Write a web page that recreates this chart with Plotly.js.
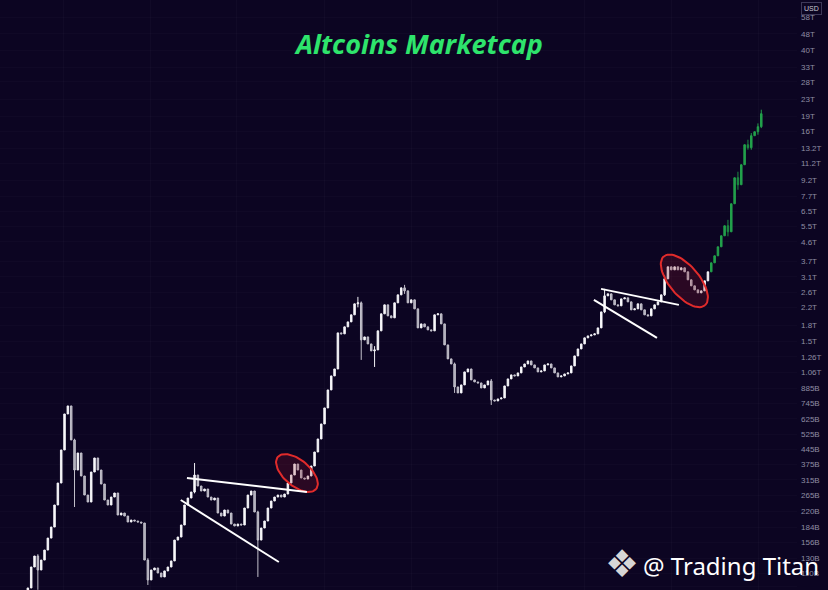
<!DOCTYPE html>
<html>
<head>
<meta charset="utf-8">
<script src="https://cdn.plot.ly/plotly-3.0.1.min.js"></script>
<style>
  html, body { margin: 0; padding: 0; background: #0c0522; }
  #chart { width: 828px; height: 590px; }
</style>
</head>
<body>
<div id="chart"></div>
<script>
// ---- data (values in billions USD) ----
const startDate = '2017-08-06';   // first candle
const stepDays = 14;              // candle spacing

// historical candles: closes
const histCloses = [
  92.9, 117.7, 133.2, 113.8, 127.3, 142.5, 163.1, 184.7, 236.8, 303.4,
  440.4, 661.0, 723.6, 493.0, 351.4, 425.7, 328.4, 265.0, 244.9, 343.5,
  402.4, 351.4, 300.0, 250.5, 236.8, 259.1, 271.1, 211.5, 216.3, 209.1,
  195.5, 199.9, 197.7, 195.5, 193.3, 127.3, 101.7, 113.8, 116.4, 110.0,
  105.2, 112.6, 117.7, 126.0, 159.5, 165.0, 189.0, 236.8, 256.2, 274.2,
  332.1, 293.4, 277.3, 283.6, 259.1, 250.5, 256.2, 216.3, 209.1, 223.8,
  216.3, 191.1, 186.9, 191.1, 189.0, 228.9, 265.0, 277.3, 218.8, 159.5,
  182.7, 197.7, 228.9, 247.7, 259.1, 265.0, 259.1, 268.0, 303.4, 332.1,
  376.0, 351.4, 321.1, 317.4, 328.4, 367.6, 430.5, 498.6, 590.5, 707.4,
  866.7, 1015, 1098, 1649, 1631, 1765, 1867, 2021, 2288, 2314,
  1524, 1576, 1456, 1346, 1361, 1687, 2044, 2262, 1998, 1954,
  2314, 2532, 2740, 2649, 2314, 2393, 2162, 1745, 1825, 1765,
  1706, 1687, 2021, 2044, 1825, 1440, 1230, 1162, 896.5, 837.8,
  917.0, 1062, 1098, 970.3, 948.5, 937.9, 886.5, 917.0, 959.3, 774.2,
  765.5, 783.0, 791.9, 906.7, 981.3, 1027, 1015, 1050, 1123, 1162,
  1202, 1149, 1111, 1062, 1074, 1149, 1162, 1111, 1050, 1004,
  1015, 1038, 1050, 1136, 1272, 1376, 1456, 1559, 1594, 1612,
  1631, 1745, 2090, 2504, 2561, 2393, 2262, 2237, 2420, 2448,
  2340, 2138, 2162, 2288, 2138, 2021, 1998, 2162, 2262, 2340,
  2532, 3034, 3473, 3358, 3473, 3358, 3435, 3283, 3000, 2803,
  2679, 2590, 2649, 2965, 3283
];
const firstOpen = 90.0;

// projected (green) candles: closes
const projCloses = [3634, 3933, 4353, 4929, 5518, 5156, 7072, 9483, 8763, 10982,
                    13764, 13305, 15236, 15938, 16864, 19528];

// notable wicks (candle index -> high / low)
const wickIdx  = [3,    14,    36,    50,    69,    99,   100,  104,  113,  128,  139,   173,  191,
                  210,  213,  216,   217,   219,   220];
const wickHigh = [136,  500,   130,   380.2, 222,   2475, 2350, 1420, 2834, 1180, 980,   2709, 3150,
                  5900, 10150, 14560, 15700, 17500, 20430];
const wickLow  = [91,   231.5, 96.1,  270,   105.2, 2200, 1216, 1123, 2560, 837.8, 731.7, 2060, 2500,
                  4900, 8283,  13009, 13009, 15408, 16600];

// trend lines drawn on the chart (date, value)
const tl1UpperX = ['2019-06-05', '2020-10-21'], tl1UpperY = [321.1, 274.2];
const tl1LowerX = ['2019-05-10', '2020-06-25'], tl1LowerY = [250.5, 124.5];
const tl2UpperX = ['2024-03-09', '2025-01-30'], tl2UpperY = [2709, 2262];
const tl2LowerX = ['2024-02-08', '2024-10-30'], tl2LowerY = [2393, 1559];

// highlighted zones (center date, center value)
const zoneDates = ['2020-09-09', '2025-02-22'];
const zoneValues = [339.7, 2965];

// axis ticks
const tickValues = [95, 110, 130, 156, 184, 220, 265, 315, 375, 445, 525, 625, 745, 885,
                    1060, 1260, 1500, 1800, 2200, 2600, 3100, 3700, 4600, 5500, 6500, 7700,
                    9200, 11200, 13200, 16000, 19000, 23000, 28000, 33000, 40000, 48000, 58000];
const tickLabels = ['95B', '110B', '130B', '156B', '184B', '220B', '265B', '315B', '375B', '445B',
                    '525B', '625B', '745B', '885B', '1.06T', '1.26T', '1.5T', '1.8T', '2.2T', '2.6T',
                    '3.1T', '3.7T', '4.6T', '5.5T', '6.5T', '7.7T', '9.2T', '11.2T', '13.2T', '16T',
                    '19T', '23T', '28T', '33T', '40T', '48T', '58T'];

// ---- build ----
const xRange = ['2017-04-11', '2026-06-10'];
const yRange = [1.95813, 4.84746];
const plotW = 797, plotH = 590;
const DAY = 86400000;
const t0 = Date.parse(startDate);

const allCloses = histCloses.concat(projCloses);
const dates = allCloses.map((_, i) => new Date(t0 + i * stepDays * DAY).toISOString().slice(0, 10));
const opens = allCloses.map((c, i) => i === 0 ? firstOpen : allCloses[i - 1]);
const highs = allCloses.map((c, i) => Math.max(c, opens[i]));
const lows = allCloses.map((c, i) => Math.min(c, opens[i]));
wickIdx.forEach((k, j) => { highs[k] = Math.max(highs[k], wickHigh[j]); lows[k] = Math.min(lows[k], wickLow[j]); });

const nH = histCloses.length;
function slice(a, s, e) { return a.slice(s, e); }

const histTrace = {
  type: 'candlestick',
  x: slice(dates, 0, nH), open: slice(opens, 0, nH), high: slice(highs, 0, nH),
  low: slice(lows, 0, nH), close: slice(allCloses, 0, nH),
  increasing: { line: { color: '#f2f2f6', width: 1 }, fillcolor: '#ffffff' },
  decreasing: { line: { color: '#c4c2cc', width: 1 }, fillcolor: '#a9a7b4' },
  whiskerwidth: 0, hoverinfo: 'skip'
};
const projTrace = {
  type: 'candlestick',
  x: slice(dates, nH), open: slice(opens, nH), high: slice(highs, nH),
  low: slice(lows, nH), close: slice(allCloses, nH),
  increasing: { line: { color: '#23a14c', width: 1 }, fillcolor: '#23a14c' },
  decreasing: { line: { color: '#1c8a40', width: 1 }, fillcolor: '#1c8a40' },
  whiskerwidth: 0, hoverinfo: 'skip'
};

function lineTrace(x, y) {
  return { type: 'scatter', mode: 'lines', x: x, y: y, line: { color: '#ffffff', width: 2 }, hoverinfo: 'skip' };
}

// ellipse outline in screen space around a data-space centre
const msPerPx = (Date.parse(xRange[1]) - Date.parse(xRange[0])) / plotW;
const decPerPx = (yRange[1] - yRange[0]) / plotH;
function ellipseTrace(cDate, cVal, a, b, thetaDeg) {
  const th = thetaDeg * Math.PI / 180, cMs = Date.parse(cDate), cl = Math.log10(cVal);
  const xs = [], ys = [];
  for (let k = 0; k <= 72; k++) {
    const t = 2 * Math.PI * k / 72;
    const dx = a * Math.cos(t) * Math.cos(th) - b * Math.sin(t) * Math.sin(th);
    const dy = a * Math.cos(t) * Math.sin(th) + b * Math.sin(t) * Math.cos(th);
    xs.push(cMs + dx * msPerPx);
    ys.push(Math.pow(10, cl - dy * decPerPx));
  }
  return { type: 'scatter', mode: 'lines', x: xs, y: ys, fill: 'toself',
           fillcolor: 'rgba(150,25,40,0.22)', line: { color: '#e02b2b', width: 2 }, hoverinfo: 'skip' };
}

const data = [
  histTrace, projTrace,
  ellipseTrace(zoneDates[0], zoneValues[0], 25, 13, 40),
  ellipseTrace(zoneDates[1], zoneValues[1], 32, 15, 50),
  lineTrace(tl1UpperX, tl1UpperY), lineTrace(tl1LowerX, tl1LowerY),
  lineTrace(tl2UpperX, tl2UpperY), lineTrace(tl2LowerX, tl2LowerY)
];

const layout = {
  width: 828, height: 590,
  paper_bgcolor: '#0c0522', plot_bgcolor: '#0c0522',
  margin: { l: 0, r: 31, t: 0, b: 0 },
  showlegend: false, hovermode: false,
  boxgap: 0.35,
  title: {
    text: '<b><i>Altcoins Marketcap</i></b>',
    font: { family: 'Open Sans', size: 27, color: '#2ee46c' },
    x: 0.5066, xref: 'container', xanchor: 'center',
    y: 0.925, yref: 'container', yanchor: 'middle'
  },
  xaxis: {
    type: 'date', range: xRange, showticklabels: false, ticks: '',
    showgrid: true, gridcolor: 'rgba(255,255,255,0.022)', zeroline: false,
    rangeslider: { visible: false }, fixedrange: true
  },
  yaxis: {
    type: 'log', range: yRange, side: 'right',
    tickmode: 'array', tickvals: tickValues, ticktext: tickLabels,
    tickfont: { family: 'Liberation Sans, Arial, sans-serif', size: 8, color: '#8f8da2' },
    ticks: '', ticklabelstandoff: 3, showgrid: true, gridcolor: 'rgba(255,255,255,0.018)', zeroline: false,
    showline: false, fixedrange: true
  },
  annotations: [
    { xref: 'paper', yref: 'paper', x: 811 / 797, y: 1 - 8 / 590, xanchor: 'center', yanchor: 'middle',
      text: 'USD', showarrow: false, font: { family: 'Liberation Sans, Arial, sans-serif', size: 7, color: '#c9c7d4' },
      bordercolor: '#3d3858', borderwidth: 1, borderpad: 2, bgcolor: '#0c0522' },
    { xref: 'paper', yref: 'paper', x: 730.5 / 797, y: 1 - 565 / 590, xanchor: 'center', yanchor: 'middle',
      text: '@ Trading Titan', showarrow: false, font: { family: 'Noto Sans', size: 24, color: '#ffffff' } },
    { xref: 'paper', yref: 'paper', x: 622 / 797, y: 1 - 564 / 590, xanchor: 'center', yanchor: 'middle',
      text: '\u2756', showarrow: false, font: { family: 'DejaVu Sans', size: 38, color: '#d6d6d6' } }
  ]
};

Plotly.newPlot('chart', data, layout, { displayModeBar: false, staticPlot: true });
</script>
</body>
</html>
